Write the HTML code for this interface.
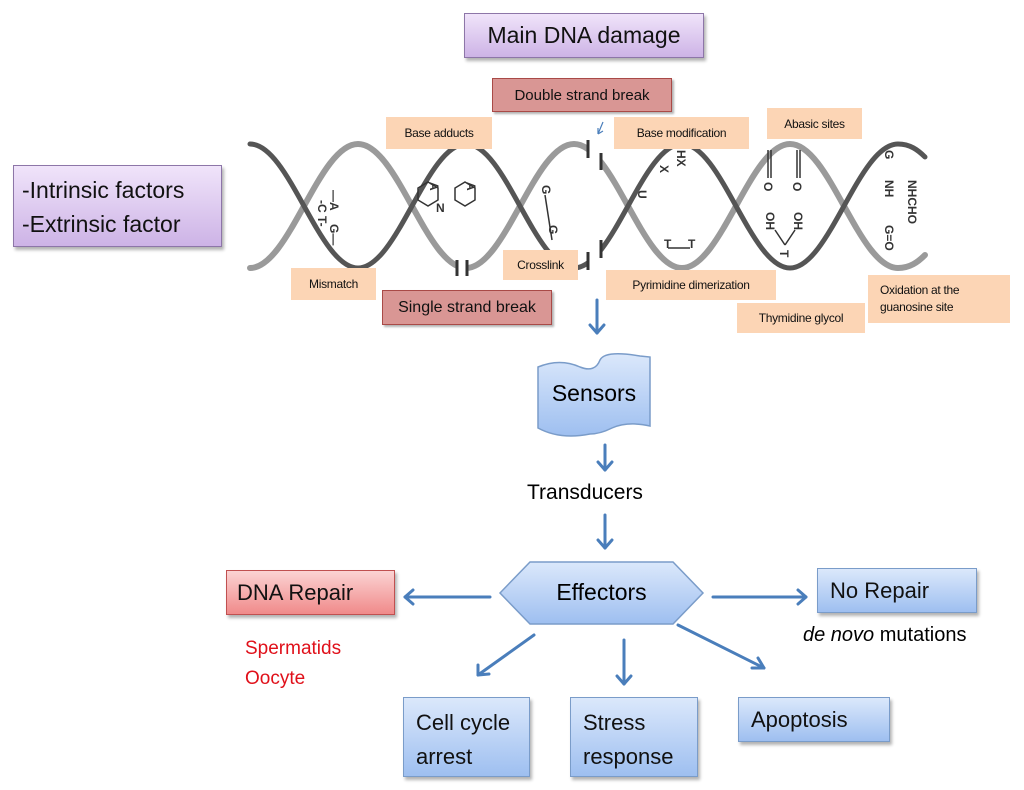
<!DOCTYPE html>
<html><head><meta charset="utf-8"><style>
body{margin:0;width:1024px;height:790px;background:#fff;position:relative;overflow:hidden;font-family:"Liberation Sans",sans-serif;}
.b{position:absolute;box-sizing:border-box;display:flex;align-items:center;justify-content:center;color:#111;white-space:nowrap;}
.pur{background:linear-gradient(#f0e4fa,#cdb3e6);border:1.5px solid #8d76a8;box-shadow:2px 3px 3px rgba(0,0,0,.3);}
.red{background:#d99694;border:1.5px solid #a94a47;box-shadow:2px 2px 2px rgba(0,0,0,.3);}
.org{background:#fcd5b5;font-size:12px;letter-spacing:-0.3px;}
.blu{background:linear-gradient(#dbe8fb,#9ebff0);border:1.5px solid #7a9cc9;box-shadow:2px 3px 3px rgba(0,0,0,.3);}
.t{position:absolute;white-space:nowrap;}
</style></head><body>
<svg width="1024" height="790" style="position:absolute;left:0;top:0">
<g fill="none" stroke-linecap="round">
<path d="M250 268 C289.3 268 318.7 144 358 144 C397.3 144 426.7 268 466 268 C505.3 268 534.7 144 574 144 C613.3 144 642.7 268 682 268 C721.3 268 750.7 144 790 144 C829.3 144 858.7 268 898 268 C910 268 918 262 925 255" stroke="#9a9a9a" stroke-width="6"/>
<path d="M250 144 C289.3 144 318.7 268 358 268 C397.3 268 426.7 144 466 144 C505.3 144 534.7 268 574 268 C613.3 268 642.7 144 682 144 C721.3 144 750.7 268 790 268 C829.3 268 858.7 144 898 144 C910 144 918 150 925 157" stroke="#555" stroke-width="5"/>
</g>
<rect x="589" y="130" width="12" height="150" fill="#fff"/>
<rect x="458" y="255" width="9" height="25" fill="#fff"/>
<g stroke="#333" stroke-width="3">
<line x1="588" y1="140" x2="588" y2="158"/><line x1="601" y1="153" x2="601" y2="170"/>
<line x1="588" y1="252" x2="588" y2="270"/><line x1="601" y1="240" x2="601" y2="258"/>
<line x1="457" y1="260" x2="457" y2="276"/><line x1="467" y1="260" x2="467" y2="276"/>
</g>
<g fill="none" stroke="#333" stroke-width="1.5">
<polygon points="428,182 438,188 438,200 428,206 418,200 418,188"/>
<polygon points="465,182 475,188 475,200 465,206 455,200 455,188"/>
<line x1="545" y1="195" x2="552" y2="240"/>
<line x1="768" y1="150" x2="768" y2="178"/><line x1="771" y1="150" x2="771" y2="178"/>
<line x1="797" y1="150" x2="797" y2="178"/><line x1="800" y1="150" x2="800" y2="178"/>
<line x1="775" y1="230" x2="785" y2="245"/><line x1="795" y1="230" x2="785" y2="245"/>
<line x1="668" y1="248" x2="690" y2="248"/>
</g>
<g font-family="Liberation Sans" font-size="12" font-weight="bold" fill="#333">
<text transform="translate(330,190) rotate(90)">—A</text>
<text transform="translate(318,200) rotate(90)">-C T-</text>
<text transform="translate(330,224) rotate(90)">G—</text>
<text transform="translate(430,182) rotate(90)">A</text>
<text transform="translate(467,182) rotate(90)">A</text>
<text x="436" y="212">N</text>
<text transform="translate(542,185) rotate(90)">G</text>
<text transform="translate(549,225) rotate(90)">G</text>
<text transform="translate(677,150) rotate(90)">HX</text>
<text transform="translate(660,165) rotate(90)">X</text>
<text transform="translate(638,190) rotate(90)">U</text>
<text x="664" y="248">T</text><text x="688" y="248">T</text>
<text transform="translate(764,182) rotate(90)">O</text>
<text transform="translate(793,182) rotate(90)">O</text>
<text transform="translate(766,212) rotate(90)">OH</text>
<text transform="translate(794,212) rotate(90)">OH</text>
<text transform="translate(780,250) rotate(90)">T</text>
<text transform="translate(885,150) rotate(90)">G</text>
<text transform="translate(885,180) rotate(90)">NH</text>
<text transform="translate(908,180) rotate(90)">NHCHO</text>
<text transform="translate(885,225) rotate(90)">G=O</text>
</g>
<g stroke="#4a7ebb" stroke-width="3" fill="none" stroke-linecap="round" stroke-linejoin="round">
<line x1="597" y1="300" x2="597" y2="333"/><polyline points="590,325 597,333 604,325"/>
<line x1="605" y1="445" x2="605" y2="470"/><polyline points="598,462 605,470 612,462"/>
<line x1="605" y1="515" x2="605" y2="548"/><polyline points="598,540 605,548 612,540"/>
<line x1="490" y1="597" x2="405" y2="597"/><polyline points="413,590 405,597 413,604"/>
<line x1="713" y1="597" x2="806" y2="597"/><polyline points="798,590 806,597 798,604"/>
<line x1="534" y1="635" x2="478" y2="675"/><polyline points="478,665 478,675 489,674"/>
<line x1="624" y1="640" x2="624" y2="684"/><polyline points="617,676 624,684 631,676"/>
<line x1="678" y1="625" x2="764" y2="668"/><polyline points="752,668 764,668 758,658"/>
</g>
<path d="M603 122 L598 134 M598 134 L598 128 M598 134 L603 131" stroke="#4a7ebb" stroke-width="1.2" fill="none"/>
<path d="M538 367 Q560 358 580 367 Q595 373 600 360 Q605 350 640 356 L650 357 L650 426 Q628 421 612 428 Q600 434 590 434 Q560 440 538 428 Z" fill="url(#g1)" stroke="#7a9cc9" stroke-width="1.5"/>
<polygon points="500,593 530,562 673,562 703,593 673,624 530,624" fill="url(#g1)" stroke="#7a9cc9" stroke-width="1.5"/>
<defs><linearGradient id="g1" x1="0" y1="0" x2="0" y2="1"><stop offset="0" stop-color="#dbe8fb"/><stop offset="1" stop-color="#9ebff0"/></linearGradient></defs>
</svg>
<div class="b pur" style="left:464px;top:13px;width:240px;height:45px;font-size:23px;">Main DNA damage</div>
<div class="b red" style="left:492px;top:78px;width:180px;height:34px;font-size:15px;">Double strand break</div>
<div class="b pur" style="left:13px;top:165px;width:209px;height:82px;font-size:23px;justify-content:flex-start;padding-left:8px;line-height:34px;white-space:normal;display:block;padding-top:7px;">-Intrinsic factors<br>-Extrinsic factor</div>
<div class="b org" style="left:386px;top:117px;width:106px;height:32px;">Base adducts</div>
<div class="b org" style="left:614px;top:117px;width:135px;height:32px;">Base modification</div>
<div class="b org" style="left:767px;top:108px;width:95px;height:31px;">Abasic sites</div>
<div class="b org" style="left:291px;top:268px;width:85px;height:32px;">Mismatch</div>
<div class="b org" style="left:503px;top:250px;width:75px;height:30px;">Crosslink</div>
<div class="b org" style="left:606px;top:270px;width:170px;height:30px;">Pyrimidine dimerization</div>
<div class="b org" style="left:737px;top:303px;width:128px;height:30px;">Thymidine glycol</div>
<div class="b org" style="left:868px;top:275px;width:142px;height:48px;white-space:normal;justify-content:flex-start;padding-left:12px;line-height:17px;">Oxidation at the guanosine site</div>
<div class="b red" style="left:382px;top:290px;width:170px;height:35px;font-size:16px;">Single strand break</div>
<div class="t" style="left:538px;top:380px;width:112px;text-align:center;font-size:23px;">Sensors</div>
<div class="t" style="left:527px;top:481px;font-size:21px;">Transducers</div>
<div class="t" style="left:500px;top:579px;width:203px;text-align:center;font-size:23px;">Effectors</div>
<div class="b" style="left:226px;top:570px;width:169px;height:45px;font-size:22px;background:linear-gradient(#fbd3d3,#f08a8a);border:1.5px solid #c05050;box-shadow:2px 3px 3px rgba(0,0,0,.3);justify-content:flex-start;padding-left:10px;">DNA Repair</div>
<div class="b blu" style="left:817px;top:568px;width:160px;height:45px;font-size:22px;justify-content:flex-start;padding-left:12px;">No Repair</div>
<div class="t" style="left:803px;top:624px;font-size:20px;"><i>de novo</i> mutations</div>
<div class="t" style="left:245px;top:634px;font-size:19px;color:#e0101a;line-height:30px;">Spermatids<br>Oocyte</div>
<div class="b blu" style="left:403px;top:697px;width:127px;height:80px;font-size:22px;display:block;padding:8px 0 0 12px;line-height:34px;white-space:normal;">Cell cycle arrest</div>
<div class="b blu" style="left:570px;top:697px;width:128px;height:80px;font-size:22px;display:block;padding:8px 0 0 12px;line-height:34px;white-space:normal;">Stress response</div>
<div class="b blu" style="left:738px;top:697px;width:152px;height:45px;font-size:22px;justify-content:flex-start;padding-left:12px;">Apoptosis</div>
</body></html>
